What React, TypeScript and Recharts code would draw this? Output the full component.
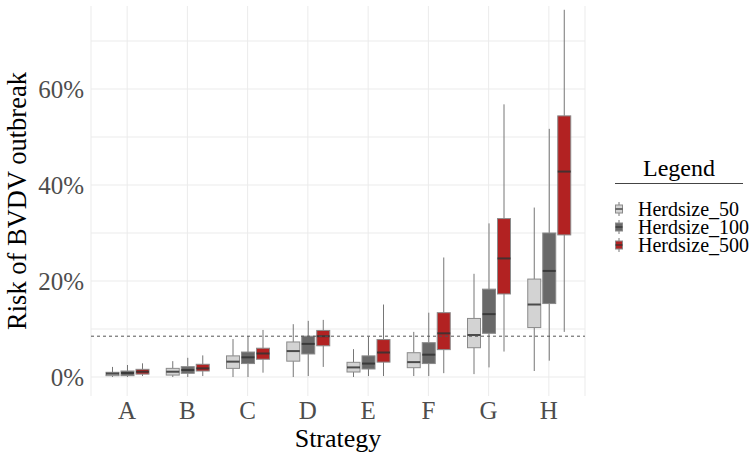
import React from 'react';
import { ComposedChart, Bar, XAxis, YAxis, CartesianGrid, ReferenceLine } from 'recharts';

const strategies = ['A', 'B', 'C', 'D', 'E', 'F', 'G', 'H'];

const h50Min = [0, 0, 0, 0, 0, 0.2, 0.6, 1.25];
const h50Q1 = [0.27, 0.4, 1.8, 3.3, 1.04, 1.94, 6.1, 10.3];
const h50Median = [0.7, 1.1, 3.2, 5.4, 2.0, 3.1, 8.75, 15.1];
const h50Q3 = [0.98, 1.8, 4.4, 7.3, 3.06, 5.06, 12.2, 20.4];
const h50Max = [2.1, 3.3, 7.9, 11.0, 5.8, 9.4, 21.5, 35.3];

const h100Min = [0, 0, 0, 0.2, 0.2, 0.2, 2.0, 3.4];
const h100Q1 = [0.27, 0.77, 2.8, 4.8, 1.67, 2.8, 9.1, 15.3];
const h100Median = [0.83, 1.46, 4.1, 6.9, 2.8, 4.65, 13.1, 22.1];
const h100Q3 = [1.25, 2.15, 5.2, 8.5, 4.4, 7.15, 18.3, 30.0];
const h100Max = [2.5, 4.0, 8.5, 11.7, 8.4, 13.4, 32.0, 51.7];

const h500Min = [0.2, 0.2, 0.9, 2.1, 0.2, 0.8, 5.3, 9.4];
const h500Q1 = [0.6, 1.25, 3.7, 6.5, 3.1, 5.7, 17.3, 29.6];
const h500Median = [1.1, 1.8, 4.9, 8.5, 5.1, 9.1, 24.7, 42.8];
const h500Q3 = [1.6, 2.65, 6.0, 9.7, 7.8, 13.4, 33.0, 54.4];
const h500Max = [2.85, 4.5, 9.8, 11.9, 15.1, 24.9, 56.8, 76.5];

const thresholdValue = 8.5;
const yMajorTicks = [0, 20, 40, 60];
const yGridValues = [0, 10, 20, 30, 40, 50, 60, 70];

const seriesNames = ['Herdsize_50', 'Herdsize_100', 'Herdsize_500'];
const seriesKeys = ['h50', 'h100', 'h500'];
const seriesFills = ['#d3d3d3', '#696969', '#b22222'];

const data = strategies.map((s, i) => ({
  strategy: s,
  h50: [h50Min[i], h50Max[i]],
  h50Box: [h50Q1[i], h50Median[i], h50Q3[i]],
  h100: [h100Min[i], h100Max[i]],
  h100Box: [h100Q1[i], h100Median[i], h100Q3[i]],
  h500: [h500Min[i], h500Max[i]],
  h500Box: [h500Q1[i], h500Median[i], h500Q3[i]],
}));

const FONT = '"Liberation Serif", "Times New Roman", Times, serif';
const OUTLINE = '#8a8a8a';
const WHISKER = '#767676';
const MEDIAN = '#333333';

const makeBoxShape = (key: string, fill: string) => (props: any) => {
  const { x, y, width, height, payload } = props;
  const range = payload[key];
  const box = payload[key + 'Box'];
  const lo = range[0];
  const hi = range[1];
  const top = Math.min(y, y + height);
  const bot = Math.max(y, y + height);
  const k = hi > lo ? (bot - top) / (hi - lo) : 0;
  const py = (v: number) => top + (hi - v) * k;
  const cx = x + width / 2;
  return (
    <g>
      <line x1={cx} x2={cx} y1={py(hi)} y2={py(box[2])} stroke={WHISKER} strokeWidth={1} />
      <line x1={cx} x2={cx} y1={py(box[0])} y2={py(lo)} stroke={WHISKER} strokeWidth={1} />
      <rect x={x} y={py(box[2])} width={width} height={py(box[0]) - py(box[2])} fill={fill} stroke={OUTLINE} strokeWidth={1} />
      <line x1={x} x2={x + width} y1={py(box[1])} y2={py(box[1])} stroke={MEDIAN} strokeOpacity={0.85} strokeWidth={2} />
    </g>
  );
};

const LegendBlock = () => (
  <div style={{ position: 'absolute', left: 615, top: 154, width: 128, fontFamily: FONT, color: '#000' }}>
    <div
      style={{
        textAlign: 'center',
        fontSize: 24,
        lineHeight: '28px',
        paddingBottom: 1,
        borderBottom: '1.5px solid #444',
      }}
    >
      Legend
    </div>
    <div style={{ marginTop: 16 }}>
      {seriesNames.map((name, i) => (
        <div key={name} style={{ display: 'flex', alignItems: 'center', height: 18 }}>
          <svg width={23} height={18} style={{ display: 'block', flex: 'none' }}>
            <line x1={4} x2={4} y1={2} y2={16} stroke={WHISKER} strokeWidth={1} />
            <rect x={0.5} y={5} width={7} height={8} fill={seriesFills[i]} stroke={OUTLINE} strokeWidth={1} />
            <line x1={0.5} x2={7.5} y1={9} y2={9} stroke={MEDIAN} strokeOpacity={0.85} strokeWidth={1.5} />
          </svg>
          <span style={{ fontFamily: FONT, fontSize: 20, lineHeight: '18px', whiteSpace: 'nowrap' }}>{name}</span>
        </div>
      ))}
    </div>
  </div>
);

const YLabel = (props: any) => {
  const vb = props.viewBox || { x: 0, y: 6, width: 91, height: 390 };
  const cx = vb.x + 26;
  const cy = vb.y + vb.height / 2;
  return (
    <text
      x={cx}
      y={cy}
      transform={`rotate(-90, ${cx}, ${cy})`}
      textAnchor="middle"
      fontFamily={FONT}
      fontSize={26.5}
      fill="#000"
    >
      Risk of BVDV outbreak
    </text>
  );
};

export default function App() {
  return (
    <div style={{ position: 'absolute', left: 0, top: 0, width: 751, height: 456, background: '#fff' }}>
      <ComposedChart
        width={751}
        height={456}
        data={data}
        margin={{ top: 6, right: 166, bottom: 0, left: 0 }}
        barGap={2}
        barSize={13}
      >
        <CartesianGrid
          vertical={true}
          horizontal={true}
          horizontalValues={yGridValues}
          stroke="#ebebeb"
          strokeWidth={1}
        />
        <XAxis
          dataKey="strategy"
          type="category"
          padding={{ left: 6, right: 6 }}
          axisLine={false}
          tickLine={false}
          tickSize={0}
          tickMargin={5}
          height={60}
          tick={{ fill: '#4d4d4d', fontSize: 25, fontFamily: FONT }}
          label={{ value: 'Strategy', position: 'insideBottom', offset: 9, fill: '#000', fontSize: 26, fontFamily: FONT }}
        />
        <YAxis
          type="number"
          domain={[-3.958, 77.29]}
          allowDataOverflow
          ticks={yMajorTicks}
          tickFormatter={(v: number) => `${v}%`}
          axisLine={false}
          tickLine={false}
          tickSize={0}
          tickMargin={7}
          width={91}
          tick={{ fill: '#4d4d4d', fontSize: 25, fontFamily: FONT }}
          label={{ content: YLabel }}
        />
        {seriesKeys.map((key, i) => (
          <Bar
            key={key}
            dataKey={key}
            name={seriesNames[i]}
            fill={seriesFills[i]}
            shape={makeBoxShape(key, seriesFills[i])}
            isAnimationActive={false}
          />
        ))}
        <ReferenceLine y={thresholdValue} stroke="#555" strokeWidth={1} strokeDasharray="3 3" />
      </ComposedChart>
      <LegendBlock />
    </div>
  );
}
